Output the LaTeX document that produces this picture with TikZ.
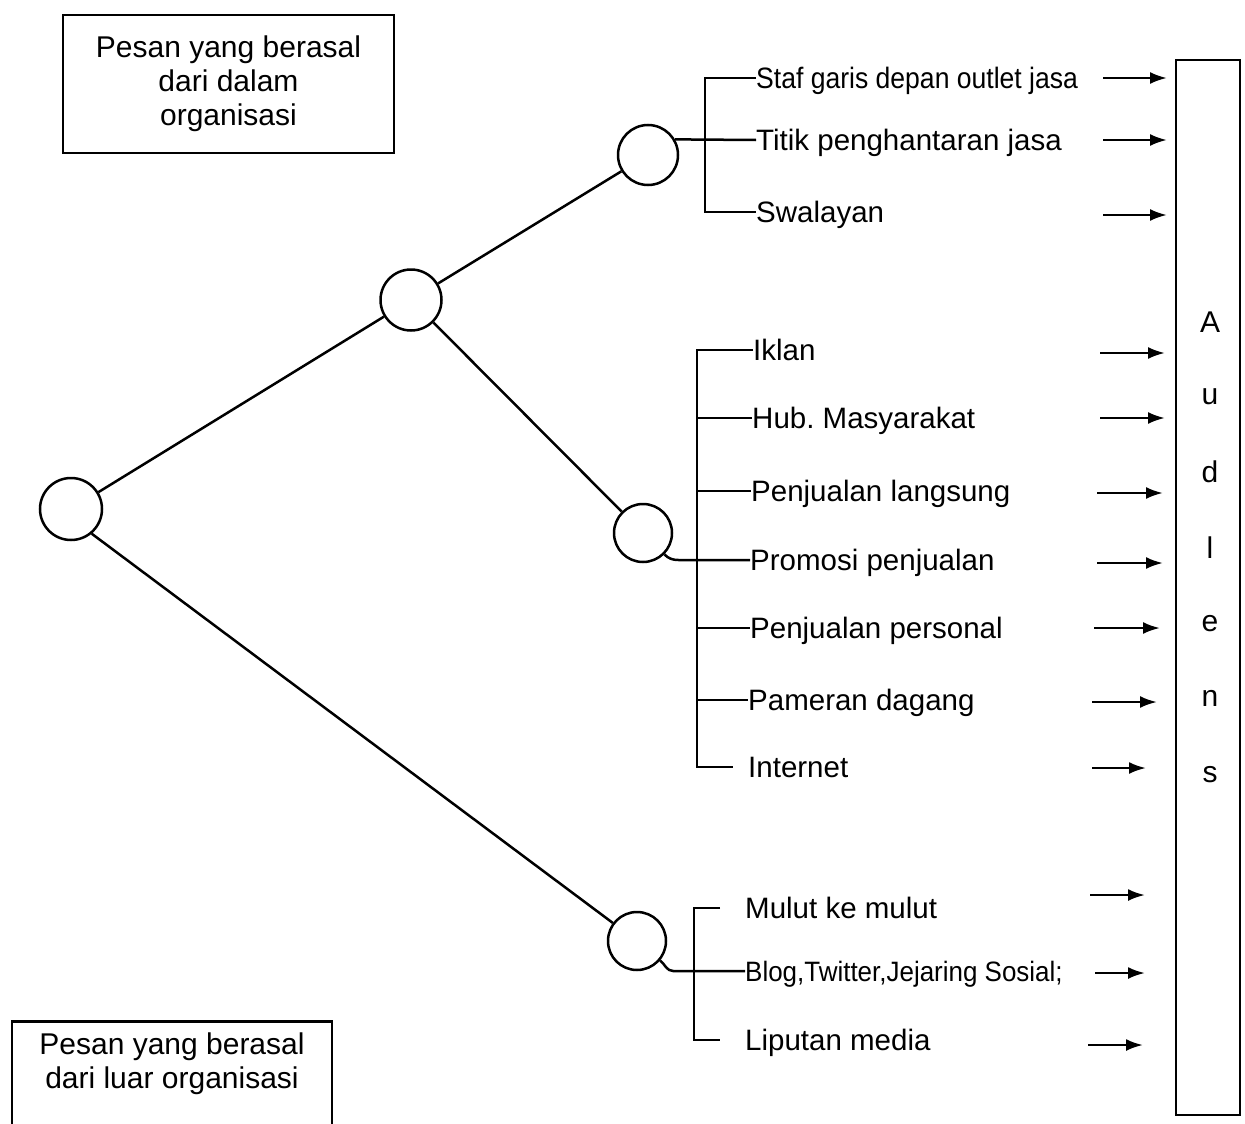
\documentclass[tikz,border=0pt]{standalone}
\usepackage{fontspec}
\setmainfont{Liberation Sans}
\usetikzlibrary{arrows.meta,calc}
\begin{document}
\begin{tikzpicture}[x=1pt,y=-1pt,
  lw/.style={line width=2.5pt},
  hub/.style={circle,draw,line width=2.5pt,inner sep=0pt},
  item/.style={anchor=west,inner sep=0pt,text height=21pt,text depth=0pt,font=\fontsize{29.5}{34}\selectfont},
  arr/.style={line width=2.5pt,-{Latex[length=17pt,width=12pt]}},
  srcbox/.style={draw,line width=2.6pt,align=center,inner sep=0pt,font=\fontsize{30}{34}\selectfont},
  letter/.style={inner sep=0pt,font=\fontsize{30}{34}\selectfont}
]
\useasboundingbox (0,0) rectangle (1245,1124);

% source boxes
\node[srcbox,minimum width=331pt,minimum height=138pt] (inbox) at (228.5,84)
  {Pesan yang berasal\\dari dalam\\organisasi};
\node[draw,line width=2.6pt,minimum width=320pt,minimum height=140pt,anchor=north,inner sep=0pt] (outbox) at (172,1020) {};
\node[align=center,inner sep=0pt,font=\fontsize{30}{34}\selectfont] (outtxt) at (172,1064)
  {Pesan yang berasal\\dari luar organisasi};

% tree of hubs
\node[hub,minimum size=62pt] (c0) at (71,509) {};
\node[hub,minimum size=61pt] (c1) at (411,300) {};
\node[hub,minimum size=60pt] (c2) at (648,155) {};
\node[hub,minimum size=58pt] (c3) at (643,533) {};
\node[hub,minimum size=58pt] (c4) at (637,941) {};
\draw[lw] (c0) -- (c1);
\draw[lw] (c1) -- (c2);
\draw[lw] (c1) -- (c3);
\draw[lw] (c0.-50) -- (c4);

% channel labels
\node[item] (t1) at (756,78) {\scalebox{0.9}[1]{Staf garis depan outlet jasa}};
\node[item] (t2) at (756,140) {Titik penghantaran jasa};
\node[item] (t3) at (756,212) {Swalayan};
\node[item] (t4) at (753,350) {Iklan};
\node[item] (t5) at (752,418) {Hub.\ Masyarakat};
\node[item] (t6) at (751,491) {Penjualan langsung};
\node[item] (t7) at (750,560) {Promosi penjualan};
\node[item] (t8) at (750,628) {Penjualan personal};
\node[item] (t9) at (748,700) {Pameran dagang};
\node[item] (t10) at (748,767) {Internet};
\node[item] (t11) at (745,908) {Mulut ke mulut};
\node[item] (t12) at (745,971) {\scalebox{0.88}[0.95]{Blog,Twitter,Jejaring Sosial;}};
\node[item] (t13) at (745,1040) {Liputan media};

% brackets
\coordinate (b1) at (705,0);
\coordinate (b2) at (697,0);
\coordinate (b3) at (694,0);
\draw[lw] (t1.west) -- (b1 |- t1.west) -- (b1 |- t3.west) -- (t3.west);
\draw[lw] (c2.30) -- (t2.west);

\draw[lw] (t4.west) -- (b2 |- t4.west) -- (b2 |- t10.west) -- ++(36,0);
\foreach \t in {t5,t6,t8,t9} \draw[lw] (b2 |- \t.west) -- (\t.west);
\draw[lw] (c3.-45) to[out=-45,in=180] ($(c3.-45 |- t7.west)+(14,0)$) -- (t7.west);

\draw[lw] ($(t11.west)+(-25,0)$) -- (b3 |- t11.west) -- (b3 |- t13.west) -- ++(26,0);
\draw[lw] (c4.-40) to[out=-40,in=180] ($(c4.-40 |- t12.west)+(13,0)$) -- (t12.west);

% audience column
\node[draw,line width=2.6pt,minimum width=64pt,minimum height=1055pt,inner sep=0pt] (aud) at (1208,587.5) {};
\foreach \ch/\y [count=\i] in {A/322,u/397,d/472,l/548,e/624,n/698,s/775}
  \node[letter] (L\i) at (1210,\y) {\ch};

% arrows into the audience
\foreach \xa/\xb/\y [count=\i] in {1103/1167/78,1103/1167/140,1103/1167/215,
    1100/1165/353,1100/1165/418,1097/1163/493,1097/1163/563,1094/1160/628,
    1092/1157/702,1092/1146/768,1090/1145/895,1095/1145/973,1088/1143/1045}{
  \coordinate (s\i) at (\xa,\y);
  \coordinate (e\i) at (\xb,\y);
  \draw[arr] (s\i) -- (e\i);
}
\end{tikzpicture}
\end{document}
